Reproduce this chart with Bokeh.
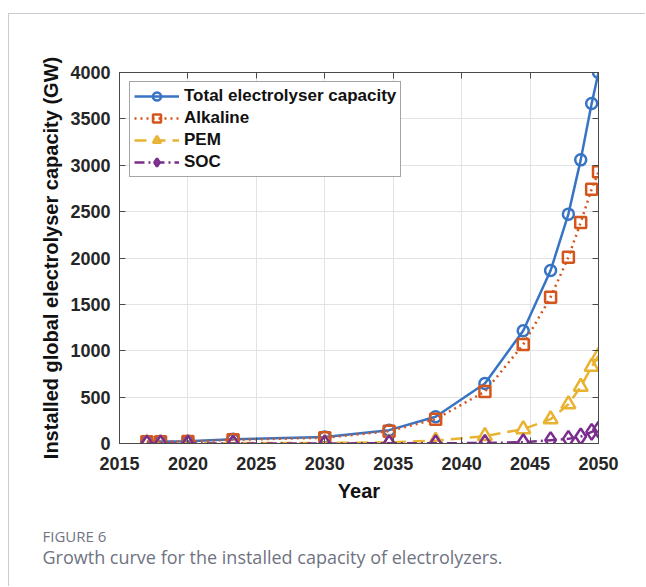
from bokeh.plotting import figure
from bokeh.models import (LinearAxis, Legend, LegendItem, Title, FixedTicker,
                          Range1d, CustomJSTickFormatter)
from bokeh.embed import file_html
from bokeh.resources import INLINE

# Installed global electrolyser capacity (GW) by technology
years = [2017, 2018, 2020, 2023.3, 2030, 2034.7, 2038.1, 2041.7, 2044.5,
         2046.5, 2047.8, 2048.7, 2049.5, 2050]
total = [20, 22, 25, 45, 70, 144, 288, 647, 1215, 1865, 2473, 3058, 3666, 4000]
alkaline = [18, 20, 22, 40, 62, 132, 262, 560, 1067, 1578, 2009, 2383, 2742, 2929]
pem = [2, 2, 3, 4, 7, 12, 30, 80, 155, 262, 424, 611, 827, 945]
soc = [0, 0, 0, 1, 1, 2, 3, 5, 14, 36, 50, 75, 125, 150]

x_ticks = [2015, 2020, 2025, 2030, 2035, 2040, 2045, 2050]
y_ticks = [0, 500, 1000, 1500, 2000, 2500, 3000, 3500, 4000]

series_names = ["Total electrolyser capacity", "Alkaline", "PEM", "SOC"]

BLUE = "#3874c4"
ORANGE = "#d4561c"
YELLOW = "#e9b332"
PURPLE = "#7a2d8c"
AXIS = "#4a4a4a"
TEXT = "#262626"
FONT = "Liberation Sans"

p = figure(width=637, height=573, output_backend="svg", toolbar_location=None,
           x_range=Range1d(2015, 2050), y_range=Range1d(0, 4000),
           min_border_left=110, min_border_right=48, min_border_top=58,
           min_border_bottom=144, background_fill_color="white",
           border_fill_color="white", outline_line_color=AXIS,
           outline_line_width=1)
p.margin = (13, 0, 0, 8)
p.styles = {"border-left": "1px solid #c9ccd4", "border-top": "1px solid #c9ccd4"}

p.grid.grid_line_color = "#e3e3e3"
p.grid.grid_line_width = 1
p.xgrid.ticker = FixedTicker(ticks=x_ticks)
p.ygrid.ticker = FixedTicker(ticks=y_ticks)

for ax, ticks in ((p.xaxis[0], x_ticks), (p.yaxis[0], y_ticks)):
    ax.ticker = FixedTicker(ticks=ticks)
    ax.major_tick_in = 6
    ax.major_tick_out = 0
    ax.minor_tick_line_color = None
    ax.axis_line_color = AXIS
    ax.major_tick_line_color = AXIS
    ax.major_label_text_font = FONT
    ax.major_label_text_font_style = "bold"
    ax.major_label_text_font_size = "18px"
    ax.major_label_text_color = TEXT
    ax.axis_label_text_font = FONT
    ax.axis_label_text_font_style = "bold"
    ax.axis_label_text_font_size = "20px"
    ax.axis_label_text_color = "#111111"

p.xaxis.axis_label = "Year"
p.yaxis.axis_label = "Installed global electrolyser capacity (GW)"
p.xaxis.major_label_standoff = 13
p.xaxis.axis_label_standoff = 7
p.yaxis.major_label_standoff = 9
p.yaxis.axis_label_standoff = 5

# box ticks on the top and right edges, without labels
blank = CustomJSTickFormatter(code="return ''")
for loc, ticks in (("right", y_ticks), ("above", x_ticks)):
    ax = LinearAxis(ticker=FixedTicker(ticks=ticks), formatter=blank,
                    major_tick_in=6, major_tick_out=0,
                    minor_tick_line_color=None, axis_line_color=AXIS,
                    major_tick_line_color=AXIS, major_label_standoff=0,
                    major_label_text_font_size="1px")
    p.add_layout(ax, loc)

lw = 2.5
r_total_l = p.line(years, total, color=BLUE, line_width=lw)
r_total_m = p.scatter(years, total, marker="circle", size=11, line_color=BLUE,
                      line_width=lw, fill_alpha=0)
r_alk_l = p.line(years, alkaline, color=ORANGE, line_width=lw, line_dash="2 4")
r_alk_m = p.scatter(years, alkaline, marker="square", size=11, line_color=ORANGE,
                    line_width=lw, fill_alpha=0)
r_pem_l = p.line(years, pem, color=YELLOW, line_width=lw, line_dash="12 7")
r_pem_m = p.scatter(years, pem, marker="triangle", size=14, line_color=YELLOW,
                    line_width=lw, fill_alpha=0)
r_soc_l = p.line(years, soc, color=PURPLE, line_width=lw, line_dash="10 4 2 4")
r_soc_m = p.scatter(years, soc, marker="diamond", size=16, line_color=PURPLE,
                    line_width=lw, fill_alpha=0)

legend = Legend(items=[
    LegendItem(label=series_names[0], renderers=[r_total_l, r_total_m]),
    LegendItem(label=series_names[1], renderers=[r_alk_l, r_alk_m]),
    LegendItem(label=series_names[2], renderers=[r_pem_l, r_pem_m]),
    LegendItem(label=series_names[3], renderers=[r_soc_l, r_soc_m]),
], location=(10, 266))
legend.label_text_font = FONT
legend.label_text_font_style = "bold"
legend.label_text_font_size = "17px"
legend.label_text_color = "#111111"
legend.glyph_width = 45
legend.glyph_height = 20
legend.label_height = 20
legend.label_standoff = 5
legend.spacing = 2
legend.padding = 4
legend.margin = 0
legend.border_line_color = AXIS
legend.border_line_width = 1
legend.background_fill_color = "white"
legend.background_fill_alpha = 1
p.add_layout(legend, "center")

# figure caption below the chart (a thin blank title adds space above it)
cap_color = "#6f7382"
p.add_layout(Title(text=" ", standoff=16, text_font_size="1px"), "below")
p.add_layout(Title(text="FIGURE 6", align="left", offset=-77, standoff=0,
                   text_font="Open Sans", text_font_size="15px",
                   text_font_style="normal", text_color=cap_color), "below")
p.add_layout(Title(text="Growth curve for the installed capacity of electrolyzers.",
                   align="left", offset=-77, standoff=-6,
                   text_font="Open Sans", text_font_size="18px",
                   text_font_style="normal", text_color=cap_color), "below")

open("out.html", "w").write(file_html(p, INLINE))
